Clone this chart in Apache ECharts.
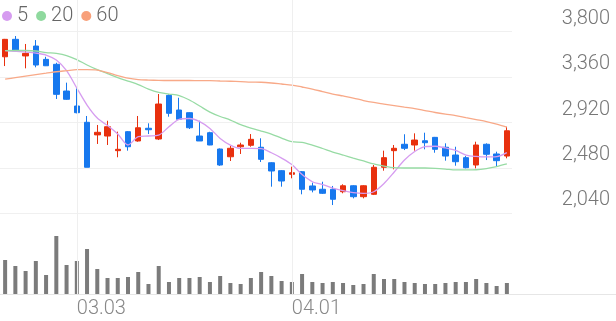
<!DOCTYPE html>
<html><head><meta charset="utf-8">
<script src="https://cdn.jsdelivr.net/npm/echarts@6/dist/echarts.min.js"></script>
<style>html,body{margin:0;padding:0;background:#fff}#c{width:616px;height:321px}</style>
</head><body><div id="c"></div>
<script>
const dates = ['02.20','02.21','02.24','02.25','02.26','02.27','02.28',
  '03.03','03.04','03.05','03.06','03.07','03.10','03.11','03.12','03.13','03.14','03.17','03.18','03.19','03.20','03.21','03.24','03.25','03.26','03.27','03.28','03.31',
  '04.01','04.02','04.03','04.04','04.07','04.08','04.09','04.10','04.11','04.14','04.15','04.16','04.17','04.18','04.21','04.22','04.23','04.24','04.25','04.28','04.29','04.30'];
const xTickDates = ['03.03','04.01'];
const opens  = [3557,3726,3565,3661,3532,3484,3225,3080,2922,2800,2789,2647,2831,2741,2864,2760,3183,3041,3015,2789,2821,2663,2588,2685,2699,2680,2530,2453,2418,2443,2305,2273,2273,2249,2307,2201,2224,2486,2647,2709,2702,2743,2776,2680,2605,2579,2508,2709,2615,2595];
const closes = [3726,3616,3590,3477,3470,3193,3145,3015,2486,2825,2879,2660,2685,2869,2850,3099,3009,2951,2869,2741,2702,2508,2670,2702,2757,2563,2450,2353,2433,2273,2266,2234,2176,2307,2201,2307,2486,2579,2670,2670,2750,2724,2660,2595,2540,2482,2702,2612,2550,2840];
const lows   = [3467,3605,3445,3455,3467,3148,3140,3009,2486,2712,2702,2583,2647,2734,2808,2750,2976,2944,2857,2741,2700,2500,2547,2615,2685,2537,2298,2298,2379,2224,2243,2227,2120,2234,2185,2185,2217,2453,2466,2653,2647,2660,2627,2550,2501,2476,2476,2556,2498,2573];
const highs  = [3730,3758,3681,3719,3557,3499,3306,3251,2983,2896,2937,2831,2837,2983,2912,3196,3193,3160,3019,2937,2830,2668,2692,2724,2808,2767,2535,2458,2492,2450,2337,2346,2305,2321,2312,2312,2508,2647,2702,2806,2815,2821,2780,2718,2685,2595,2734,2718,2637,2879];
const ma5  = [3616,3610,3603,3593,3574,3525,3422,3254,3089,2963,2890,2808,2702,2782,2789,2798,2879,2951,2959,2929,2863,2766,2701,2669,2669,2667,2627,2575,2512,2415,2346,2318,2285,2260,2241,2233,2249,2329,2440,2556,2639,2687,2690,2673,2649,2605,2591,2586,2589,2628];
const ma20 = [3616,3618,3618,3613,3598,3589,3569,3530,3477,3432,3394,3355,3322,3288,3244,3212,3196,3181,3138,3080,3021,2978,2944,2900,2866,2837,2808,2769,2734,2728,2701,2668,2634,2605,2575,2547,2518,2498,2482,2479,2479,2479,2476,2469,2460,2460,2462,2474,2493,2518];
const ma60 = [3340,3355,3370,3385,3398,3412,3422,3432,3432,3428,3404,3375,3350,3336,3331,3328,3327,3327,3327,3325,3325,3322,3320,3317,3312,3310,3303,3293,3283,3264,3244,3220,3196,3177,3157,3133,3114,3099,3084,3069,3055,3036,3017,3001,2987,2967,2948,2929,2905,2876];
const volumes = [340,280,230,330,190,580,290,330,450,250,160,160,170,220,100,280,120,160,160,170,120,180,110,100,160,220,180,130,120,200,120,110,120,110,90,100,200,150,150,120,110,100,100,110,120,120,150,110,80,110];
const yTickLabels = ['2,040','2,480','2,920','3,360','3,800'];
const maNames = ['5','20','60'];

const UP = '#e8300e', DOWN = '#1778ee';
const FONT = 'Roboto';
const candles = dates.map((d, i) => [opens[i], closes[i], lows[i], highs[i]]);

const chart = echarts.init(document.getElementById('c'), null, {renderer: 'canvas'});
chart.setOption({
  animation: false,
  backgroundColor: '#ffffff',
  legend: {
    data: maNames, left: 2, top: 6, padding: 0, icon: 'circle',
    itemWidth: 10, itemHeight: 10, itemGap: 8,
    textStyle: {fontSize: 20, color: '#666', fontFamily: FONT, fontWeight: 300}
  },
  grid: [
    {left: 0, width: 512, top: 31.7, height: 181.6, outerBoundsMode: 'none', containLabel: false},
    {left: 0, width: 512, top: 0, height: 294, outerBoundsMode: 'none', containLabel: false},
    {left: 0, right: 0, top: 213.3, height: 80.7, outerBoundsMode: 'none', containLabel: false}
  ],
  xAxis: [
    {type: 'category', gridIndex: 0, data: dates, show: false},
    {type: 'category', gridIndex: 1, data: dates,
      axisLine: {show: false}, axisTick: {show: false}, splitLine: {show: false},
      axisLabel: {interval: (idx, v) => xTickDates.includes(v), align: 'left', margin: 5,
        fontSize: 20, color: '#888', fontFamily: FONT, fontWeight: 300}},
    {type: 'value', gridIndex: 2, position: 'top', min: 0, max: 1,
      axisLine: {show: true, lineStyle: {color: '#e6e6e6', width: 1}},
      axisTick: {show: false}, axisLabel: {show: false}, splitLine: {show: false}},
    {type: 'value', gridIndex: 2, position: 'bottom', min: 0, max: 1,
      axisLine: {show: true, lineStyle: {color: '#e6e6e6', width: 1}},
      axisTick: {show: false}, axisLabel: {show: false}, splitLine: {show: false}}
  ],
  yAxis: [
    {type: 'value', gridIndex: 0, min: 2040, max: 3800, show: false, splitLine: {show: false}},
    {type: 'value', gridIndex: 0, min: 0, max: 4, interval: 1, position: 'right',
      axisLine: {show: false}, axisTick: {show: false},
      splitLine: {show: true, lineStyle: {color: '#f0f0f0', width: 1}},
      axisLabel: {formatter: v => yTickLabels[v] || '', align: 'right', margin: 98,
        verticalAlign: 'bottom', padding: [0, 0, 3, 0],
        fontSize: 20, color: '#777', fontFamily: FONT, fontWeight: 300}},
    {type: 'value', gridIndex: 1, min: 0, max: 2940, show: false, splitLine: {show: false}},
    {type: 'value', gridIndex: 2, min: 0, max: 1, show: false, splitLine: {show: false}}
  ],
  series: [
    {type: 'bar', name: 'vol', xAxisIndex: 1, yAxisIndex: 2, data: volumes, barWidth: 4, z: 1,
      itemStyle: {color: '#7b7b7b'}, silent: true,
      markLine: {silent: true, symbol: ['none', 'none'], label: {show: false},
        lineStyle: {color: '#efefef', type: 'solid', width: 1},
        data: xTickDates.map(d => ({xAxis: d}))}},
    {type: 'candlestick', name: 'price', xAxisIndex: 0, yAxisIndex: 0, data: candles, barWidth: 6, z: 3,
      itemStyle: {color: UP, color0: DOWN, borderColor: UP, borderColor0: DOWN, borderWidth: 1}},
    {type: 'line', name: '5', xAxisIndex: 0, yAxisIndex: 0, data: ma5, smooth: 0.3, showSymbol: false, z: 4,
      itemStyle: {color: '#d69cf0'}, lineStyle: {color: '#d69cf0', width: 1.3}},
    {type: 'line', name: '20', xAxisIndex: 0, yAxisIndex: 0, data: ma20, smooth: 0.3, showSymbol: false, z: 4,
      itemStyle: {color: '#8fd99e'}, lineStyle: {color: '#97dba4', width: 1.3}},
    {type: 'line', name: '60', xAxisIndex: 0, yAxisIndex: 0, data: ma60, smooth: 0.3, showSymbol: false, z: 4,
      itemStyle: {color: '#f8a07a'}, lineStyle: {color: '#f8a988', width: 1.3}}
  ]
});
</script></body></html>
